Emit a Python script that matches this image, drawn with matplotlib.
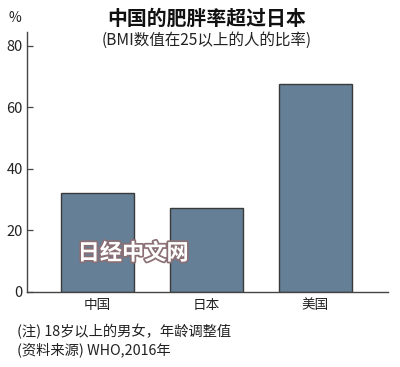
import matplotlib.pyplot as plt
import matplotlib.patheffects as pe

plt.rcParams['font.family'] = ['Noto Sans CJK SC', 'DejaVu Sans']

countries = ["中国", "日本", "美国"]
obesity_rate = [32.2, 27.3, 67.6]
y_ticks = [0, 20, 40, 60, 80]

title = "中国的肥胖率超过日本"
subtitle = "(BMI数值在25以上的人的比率)"
notes = ["(注) 18岁以上的男女，年龄调整值", "(资料来源) WHO,2016年"]

fig = plt.figure(figsize=(4.0, 3.67), dpi=100)
ax = fig.add_axes([0.0675, 0.2044, 0.9025, 0.7084])

x = list(range(len(countries)))
ax.bar(x, obesity_rate, width=0.67, color="#657f97", edgecolor="#3a3a3a", linewidth=1.0, zorder=2)

ax.set_xlim(-0.647, 2.665)
ax.set_ylim(0, 84.5)
ax.set_yticks(y_ticks)
ax.set_yticklabels([str(v) for v in y_ticks], fontsize=10.5, color="#222222")
ax.set_xticks(x)
ax.set_xticklabels(countries, fontsize=9.8, color="#222222")
ax.tick_params(axis="y", direction="in", length=4, width=0.9, color="#444444", pad=3)
ax.tick_params(axis="x", length=0, pad=4)

for side in ("top", "right"):
    ax.spines[side].set_visible(False)
for side in ("left", "bottom"):
    ax.spines[side].set_color("#444444")
    ax.spines[side].set_linewidth(1.0)

fig.text(0.5175, 0.951, title, fontsize=14.3, fontweight="bold", ha="center", va="center", color="#111111")
fig.text(0.5175, 0.889, subtitle, fontsize=11.2, ha="center", va="center", color="#222222")
fig.text(0.038, 0.951, "%", fontsize=10, ha="center", va="center", color="#222222")

fig.text(0.043, 0.098, notes[0], fontsize=10.3, ha="left", va="center", color="#222222")
fig.text(0.043, 0.046, notes[1], fontsize=10.3, ha="left", va="center", color="#222222")

# watermark
fig.text(0.333, 0.31, "日经中文网", fontsize=16, fontweight="bold", ha="center", va="center",
         color="white", path_effects=[pe.withStroke(linewidth=2.5, foreground="#8a6f74")], zorder=5)

fig.savefig("out.png", dpi=100)
